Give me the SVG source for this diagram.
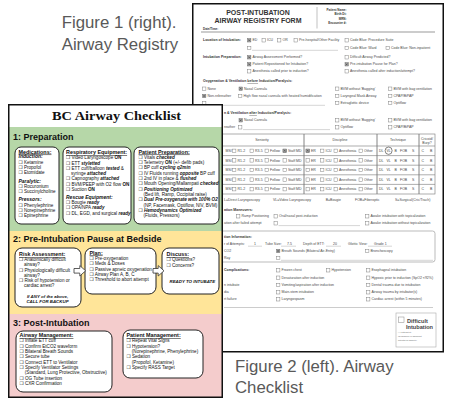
<svg xmlns="http://www.w3.org/2000/svg" width="449" height="404" viewBox="0 0 449 404">
<style>
.cap{font-family:"Liberation Sans",Arial,sans-serif;font-size:16.8px;fill:#595959}
.r{font-family:"Liberation Sans",Arial,sans-serif;font-size:3.5px;fill:#4a4a4a}
.rb{font-weight:bold;fill:#333}
.cbr{fill:#fff;stroke:#777;stroke-width:0.45}
.ul{stroke:#888;stroke-width:0.35}
.tl{stroke:#777;stroke-width:0.6}
.c{font-family:"Liberation Sans","DejaVu Sans",sans-serif;font-size:4.6px;fill:#111}
.ct{font-size:5.4px;font-weight:bold;text-decoration:underline}
.cs{font-size:5px;font-weight:bold;font-style:italic}
.b{font-weight:bold}
.bi{font-weight:bold;font-style:italic}
.sec{font-family:"Liberation Sans",Arial,sans-serif;font-size:9px;font-weight:bold;fill:#111}
.box{fill:#fff;stroke:#222;stroke-width:1}
.arr{fill:#fff;stroke:#333;stroke-width:0.8}
</style>
<defs>
<rect id="cb" width="3.4" height="3.4" class="cbr"/>
<g id="cbx"><rect width="3.4" height="3.4" fill="#aaa" stroke="#666" stroke-width="0.45"/><path d="M0.8,0.8L2.6,2.6M2.6,0.8L0.8,2.6" stroke="#333" stroke-width="0.5"/></g>
<g id="trow" class="r">
<text x="225.5" y="1.1">MSI</text>
<use href="#cb" x="232.5" y="-1.7"/><text x="237.5" y="1.1">R1-2</text>
<use href="#cb" x="250" y="-1.7"/><text x="255" y="1.1">R3-5</text>
<use href="#cb" x="265" y="-1.7"/><text x="270" y="1.1">Fellow</text>
<use href="#cb" x="283" y="-1.7"/><text x="288" y="1.1">Staff MD</text>
<use href="#cb" x="306" y="-1.7"/><text x="311" y="1.1">ER</text>
<use href="#cb" x="320.5" y="-1.7"/><text x="325.5" y="1.1">ICU</text>
<use href="#cb" x="334" y="-1.7"/><text x="339" y="1.1">Anesthesia</text>
<use href="#cb" x="359" y="-1.7"/><text x="364" y="1.1">Other</text>
<text x="379" y="1.1">DL</text><text x="386.5" y="1.1">VL</text><text x="394.5" y="1.1">B</text><text x="400" y="1.1">FOB</text><text x="412" y="1.1">S</text>
<text x="421.5" y="1.1">C</text><text x="430" y="1.1">B</text>
</g>
</defs>

<g id="registry">
<rect x="192.75" y="3.75" width="250.5" height="348" fill="#fff" stroke="#111" stroke-width="1.5"/>
<text x="258" y="15" text-anchor="middle" style="font-family:'Liberation Sans',Arial,sans-serif;font-size:7px;font-weight:bold;fill:#333">POST-INTUBATION</text>
<text x="258" y="23.3" text-anchor="middle" style="font-family:'Liberation Sans',Arial,sans-serif;font-size:7px;font-weight:bold;fill:#333">AIRWAY REGISTRY FORM</text>
<line x1="317" y1="7" x2="317" y2="28.5" stroke="#999" stroke-width="0.6"/>
<g class="r rb" text-anchor="end" style="font-size:3px">
<text x="346.5" y="11">Patient Name:</text>
<text x="346.5" y="15.3">Birth Dt:</text>
<text x="346.5" y="19.6">MRN:</text>
<text x="346.5" y="24">Encounter #:</text>
</g>
<text class="r rb" x="203" y="30.3" style="font-size:3px">Date/Time:</text>
<line x1="201" y1="32" x2="435" y2="32" stroke="#999" stroke-width="1.2"/>

<text class="r rb" x="203" y="41.4">Location of Intubation:</text>
<use href="#cbx" x="247.5" y="38.6"/><text class="r" x="252.5" y="41.4">ED</text>
<use href="#cb" x="262" y="38.6"/><text class="r" x="267" y="41.4">ICU</text>
<use href="#cb" x="277.5" y="38.6"/><text class="r" x="282.5" y="41.4">OR</text>
<use href="#cb" x="294" y="38.6"/><text class="r" x="299" y="41.4">Pre-hospital/Other Facility</text>
<use href="#cb" x="345" y="38.6"/><text class="r" x="350" y="41.4">Code Blue: Procedure Suite</text>
<use href="#cb" x="247.5" y="46.3"/><line class="ul" x1="252" y1="50.3" x2="338" y2="50.3"/>
<use href="#cb" x="345" y="46.3"/><text class="r" x="350" y="49.1">Code Blue: Ward</text>
<use href="#cb" x="386" y="46.3"/><text class="r" x="391" y="49.1">Code Blue: Non-inpatient</text>

<text class="r rb" x="203" y="58.4">Intubation Preparation:</text>
<use href="#cbx" x="247.5" y="55.6"/><text class="r" x="252.5" y="58.4">Airway Assessment Performed?</text>
<use href="#cb" x="345" y="55.6"/><text class="r" x="350" y="58.4">Difficult Airway Predicted?</text>
<use href="#cbx" x="247.5" y="62.6"/><text class="r" x="252.5" y="65.4">Patient Repositioned for Intubation?</text>
<use href="#cbx" x="345" y="62.6"/><text class="r" x="350" y="65.4">Pre-intubation Pause for Plan?</text>
<use href="#cb" x="247.5" y="69.6"/><text class="r" x="252.5" y="72.4">Anesthesia called prior to induction?</text>
<use href="#cb" x="345" y="69.6"/><text class="r" x="350" y="72.4">Anesthesia called after induction/attempt?</text>

<text class="r rb" x="203" y="82.2">Oxygenation &amp; Ventilation <tspan text-decoration="underline">before</tspan> Induction/Paralysis:</text>
<use href="#cb" x="202.5" y="87"/><text class="r" x="207.5" y="89.8">None</text>
<use href="#cbx" x="239" y="87"/><text class="r" x="244" y="89.8">Nasal Cannula</text>
<use href="#cb" x="335.5" y="87"/><text class="r" x="340.5" y="89.8">BVM without 'Bagging'</text>
<use href="#cb" x="388.5" y="87"/><text class="r" x="393.5" y="89.8">BVM with bag ventilation</text>
<use href="#cbx" x="202.5" y="94.3"/><text class="r" x="207.5" y="97.1">Non-rebreather</text>
<use href="#cb" x="238.5" y="94.3"/><text class="r" x="243.5" y="97.1">High flow nasal cannula with heated humidification</text>
<use href="#cb" x="335.5" y="94.3"/><text class="r" x="340.5" y="97.1">Laryngeal Mask Airway</text>
<use href="#cb" x="388.5" y="94.3"/><text class="r" x="393.5" y="97.1">CPAP/BiPAP</text>
<use href="#cb" x="202.5" y="101.3"/><line class="ul" x1="207" y1="105.3" x2="325" y2="105.3"/>
<use href="#cb" x="335.5" y="101.3"/><text class="r" x="340.5" y="104.1">Extraglottic device</text>
<use href="#cb" x="388.5" y="101.3"/><text class="r" x="393.5" y="104.1">Optiflow</text>

<text class="r rb" x="224" y="114">n &amp; Ventilation <tspan text-decoration="underline">after</tspan> Induction/Paralysis:</text>
<use href="#cbx" x="239" y="118.6"/><text class="r" x="244" y="121.4">Nasal Cannula</text>
<use href="#cb" x="335.5" y="118.6"/><text class="r" x="340.5" y="121.4">BVM without 'Bagging'</text>
<use href="#cb" x="388.5" y="118.6"/><text class="r" x="393.5" y="121.4">BVM with bag ventilation</text>
<text class="r" x="224" y="128.4">reather</text>
<use href="#cb" x="238.5" y="125.6"/><line class="ul" x1="243" y1="129.6" x2="330" y2="129.6"/>
<use href="#cb" x="335.5" y="125.6"/><text class="r" x="340.5" y="128.4">Optiflow</text>
<use href="#cb" x="388.5" y="125.6"/><text class="r" x="393.5" y="128.4">CPAP/BiPAP</text>

<g class="tl" fill="none">
<rect x="203" y="134" width="232" height="60"/>
<line x1="203" y1="146" x2="435" y2="146"/>
<line x1="203" y1="155.6" x2="435" y2="155.6"/>
<line x1="203" y1="165.2" x2="435" y2="165.2"/>
<line x1="203" y1="174.8" x2="435" y2="174.8"/>
<line x1="203" y1="184.4" x2="435" y2="184.4"/>
<line x1="304" y1="134" x2="304" y2="194" stroke-width="0.9"/>
<line x1="377" y1="134" x2="377" y2="194" stroke-width="0.9"/>
<line x1="419" y1="134" x2="419" y2="194" stroke-width="0.9"/>
</g>
<g class="r" text-anchor="middle">
<text x="262" y="141.3">Seniority</text>
<text x="340" y="141.3">Discipline</text>
<text x="398" y="141.3">Technique</text>
<text x="427" y="139.6">Cricoid/</text>
<text x="427" y="143.6">Burp?</text>
</g>
<use href="#trow" y="150.8"/>
<use href="#cbx" x="283" y="149.1"/>
<use href="#cbx" x="306" y="149.1"/>
<ellipse cx="388.6" cy="150.7" rx="3.5" ry="3.7" fill="none" stroke="#333" stroke-width="0.6"/>
<use href="#trow" y="160.4"/>
<use href="#trow" y="170"/>
<use href="#trow" y="179.6"/>
<use href="#trow" y="189.2"/>
<g class="r">
<text x="224" y="200.5">L=Direct Laryngoscopy</text>
<text x="273" y="200.5">VL=Video Laryngoscopy</text>
<text x="325.7" y="200.5">B=Bougie</text>
<text x="355" y="200.5">FOB=Fiberoptic</text>
<text x="395" y="200.5">S=Surgical(Cric/Trach)</text>
</g>

<text class="r rb" x="224" y="210.8">ation Maneuvers:</text>
<use href="#cb" x="236.5" y="214.6"/><text class="r" x="241.5" y="217.4">Ramp Positioning</text>
<use href="#cb" x="274" y="214.6"/><text class="r" x="279" y="217.4">Oral/nasal post-induction</text>
<use href="#cb" x="365.5" y="214.6"/><text class="r" x="370.5" y="217.4">Awake intubation with topicalization</text>
<text class="r" x="224" y="224.4">ation after failed attempt</text>
<use href="#cb" x="274" y="221.6"/><line class="ul" x1="278.5" y1="225.6" x2="360" y2="225.6"/>
<use href="#cb" x="365.5" y="221.6"/><text class="r" x="370.5" y="224.4">Awake intubation without topicalization</text>

<rect x="203" y="231" width="232" height="31" rx="2.5" fill="none" stroke="#aaa" stroke-width="0.8"/>
<text class="r rb" x="224" y="238.3">tion Information:</text>
<g class="r">
<text x="224" y="245.4">r of Attempts:</text>
<line class="ul" x1="248" y1="246.2" x2="262" y2="246.2"/><text x="254" y="245.4">1</text>
<text x="265" y="245.4">Tube Size:</text>
<line class="ul" x1="281" y1="246.2" x2="296" y2="246.2"/><text x="287" y="245.4">7.5</text>
<text x="303" y="245.4">Depth of ETT:</text>
<line class="ul" x1="326" y1="246.2" x2="341" y2="246.2"/><text x="333" y="245.4">20</text>
<text x="348" y="245.4">Glottic View:</text>
<line class="ul" x1="368" y1="246.2" x2="392" y2="246.2"/><text x="374" y="245.4">Grade 1</text>
<text x="224" y="252.2">CO2</text>
<use href="#cbx" x="276.5" y="249.3"/><text x="281.5" y="252.2">Breath Sounds (Bilateral Air-Entry)</text>
<use href="#cb" x="365.5" y="249.3"/><text x="370.5" y="252.2">Bronchoscopy</text>
<text x="224" y="259.2">Ray</text>
</g>
<use href="#cb" x="276.5" y="256.3"/><line class="ul" x1="281" y1="260.3" x2="433" y2="260.3"/>

<text class="r rb" x="224" y="271.4">Complications:</text>
<g class="r">
<use href="#cb" x="276.5" y="268.6"/><text x="281.5" y="271.4">Frozen chest</text>
<use href="#cb" x="326.5" y="268.6"/><text x="331.5" y="271.4">Hypotension</text>
<use href="#cb" x="366.5" y="268.6"/><text x="371.5" y="271.4">Esophageal intubation</text>
<use href="#cb" x="276.5" y="276"/><text x="281.5" y="278.8">Desaturation after induction</text>
<use href="#cb" x="366.5" y="276"/><text x="371.5" y="278.8">Hypoxic prior to induction (SpO2 &lt;92%)</text>
<text x="224" y="286.1">n intubate</text>
<use href="#cb" x="276.5" y="283.3"/><text x="281.5" y="286.1">Vomiting/aspiration after induction</text>
<use href="#cb" x="366.5" y="283.3"/><text x="371.5" y="286.1">Dental trauma due to intubation</text>
<text x="224" y="293.4">dia</text>
<use href="#cb" x="276.5" y="290.6"/><text x="281.5" y="293.4">Main-stem intubation</text>
<use href="#cb" x="366.5" y="290.6"/><text x="371.5" y="293.4">Airway trauma by intubator(s)</text>
<text x="224" y="300.4">rt failure</text>
<use href="#cb" x="276.5" y="297.6"/><text x="281.5" y="300.4">Laryngospasm</text>
<use href="#cb" x="366.5" y="297.6"/><text x="371.5" y="300.4">Cardiac arrest (within 5 minutes)</text>
</g>
<line x1="224" y1="307.5" x2="433" y2="307.5" stroke="#ccc" stroke-width="1.2"/>

<rect x="396" y="313" width="40" height="34" fill="#fff" stroke="#aaa" stroke-width="0.6"/>
<rect x="398.5" y="317" width="5.5" height="5.5" fill="#fff" stroke="#888" stroke-width="0.5"/>
<g style="font-family:'Liberation Sans',Arial,sans-serif;font-weight:bold;font-size:5.6px;fill:#444">
<text x="407" y="322.8">Difficult</text>
<text x="406" y="329.3">Intubation</text>
</g>
<g style="font-family:'Liberation Sans',Arial,sans-serif;font-size:2px;fill:#666">
<text x="398" y="333">(&gt; 1 attempt at</text>
<text x="398" y="337">laryngoscopy or significant</text>
<text x="398" y="341">potential for difficulty)</text>
</g>
</g>

<g id="checklist">
<rect x="8.5" y="104.5" width="214" height="293" fill="#fff"/>
<rect x="8.5" y="127" width="214" height="104" fill="#b6d7a8"/>
<rect x="8.5" y="231" width="214" height="83" fill="#ffe599"/>
<rect x="8.5" y="314" width="214" height="83.5" fill="#f4cccc"/>
<text x="116.5" y="120" text-anchor="middle" textLength="129" lengthAdjust="spacingAndGlyphs" style="font-family:'Liberation Serif','Times New Roman',serif;font-weight:bold;font-size:13.5px;fill:#111">BC Airway Checklist</text>
<text class="sec" x="13" y="139.5">1: Preparation</text>
<text class="sec" x="13" y="242">2: Pre-Intubation Pause at Bedside</text>
<text class="sec" x="13" y="326">3: Post-Intubation</text>

<g id="medications">
<rect class="box" x="15" y="147" width="44" height="77" rx="6"/>
<g class="c">
<text class="ct" x="18.5" y="153.5">Medications:</text>
<text class="cs" x="18.5" y="158">Induction:</text>
<text x="18.5" y="163.5">❒ Ketamine</text>
<text x="18.5" y="168.7">❒ Propofol</text>
<text x="18.5" y="174">❒ Etomidate</text>
<text class="cs" x="18.5" y="182.5">Paralytic:</text>
<text x="18.5" y="188">❒ Rocuronium</text>
<text x="18.5" y="193.2">❒ Succinylcholine</text>
<text class="cs" x="18.5" y="201">Pressors:</text>
<text x="18.5" y="206.5">❒ Phenylephrine</text>
<text x="18.5" y="211.8">❒ Norepinephrine</text>
<text x="18.5" y="217.2">❒ Epinephrine</text>
</g>
</g>

<g id="respiratory-equipment">
<rect class="box" x="63" y="147" width="68" height="77" rx="6"/>
<g class="c">
<text class="ct" x="66" y="154">Respiratory Equipment:</text>
<text x="66" y="159.2">❒ Video Laryngoscope <tspan class="b">ON</tspan></text>
<text x="66" y="164.5">❒ ETT <tspan class="bi">styletted</tspan></text>
<text x="66" y="169.8">❒ ETT cuff/balloon <tspan class="bi">tested</tspan> &amp;</text>
<text x="71" y="175">syringe <tspan class="bi">attached</tspan></text>
<text x="66" y="180.3">❒ Capnography <tspan class="bi">attached</tspan></text>
<text x="66" y="185.7">❒ BVM/PEEP with O2 flow <tspan class="b">ON</tspan></text>
<text x="66" y="191.2">❒ Suction <tspan class="b">ON</tspan></text>
<text class="cs" x="66" y="198.5">Rescue Equipment:</text>
<text x="66" y="204">❒ Bougie <tspan class="bi">ready</tspan></text>
<text x="66" y="209.2">❒ OPA/NPA <tspan class="bi">ready</tspan></text>
<text x="66" y="214.5">❒ DL, EGD, and surgical <tspan class="bi">ready</tspan></text>
</g>
</g>

<g id="patient-preparation">
<rect class="box" x="134" y="147" width="85" height="77" rx="6"/>
<g class="c">
<text class="ct" x="138.5" y="153.5">Patient Preparation:</text>
<text x="138.5" y="158.6">❒ Vitals <tspan class="bi">checked</tspan></text>
<text x="138.5" y="164">❒ Telemetry <tspan class="b">ON</tspan> (+/- defib pads)</text>
<text x="138.5" y="169.2">❒ BP cuff <tspan class="bi">cycling q2min</tspan></text>
<text x="138.5" y="174.5">❒ IV Fluids running <tspan class="bi">opposite</tspan> BP cuff</text>
<text x="138.5" y="179.8">❒ 2nd IV in place &amp; <tspan class="bi">flushed</tspan></text>
<text x="138.5" y="185.1">❒ Mouth Opening/Mallampati <tspan class="bi">checked</tspan></text>
<text x="138.5" y="190.5">❒ <tspan class="bi">Positioning Optimized</tspan></text>
<text x="143.5" y="195.8">(Bed lift, Ramp, Occipital raise)</text>
<text x="138.5" y="201.3">❒ <tspan class="bi">Dual Pre-oxygenate with 100% O2</tspan></text>
<text x="143.5" y="206.6">(NP, Facemask, Optiflow, NIV, BVM)</text>
<text x="138.5" y="212.1">❒ <tspan class="bi">Hemodynamics Optimized</tspan></text>
<text x="143.5" y="217.4">(Fluids, Pressors)</text>
</g>
</g>

<g id="risk-assessment">
<rect class="box" x="15" y="248" width="66" height="59" rx="7"/>
<g class="c">
<text class="ct" x="19" y="256">Risk Assessment:</text>
<text x="19" y="261.2">❒ Anatomically difficult</text>
<text x="24" y="266.3">airway?</text>
<text x="19" y="271.6">❒ Physiologically difficult</text>
<text x="24" y="276.7">airway?</text>
<text x="19" y="282">❒ Risk of hypotension or</text>
<text x="24" y="287.1">cardiac arrest?</text>
<text class="bi" x="47.5" y="298" text-anchor="middle" style="font-size:4.4px">If ANY of the above,</text>
<text class="bi" x="47.5" y="303.4" text-anchor="middle" style="font-size:4.4px">CALL FOR BACKUP</text>
</g>
</g>

<g id="plan">
<rect class="box" x="85" y="248" width="71" height="46" rx="7"/>
<g class="c">
<text class="ct" x="89.5" y="254.5">Plan:</text>
<text x="89.5" y="260">❒ Pre-oxygenation</text>
<text x="89.5" y="265.4">❒ Meds &amp; Doses</text>
<text x="89.5" y="270.7">❒ Passive apneic oxygenation</text>
<text x="89.5" y="276">❒ Airway Plan A, B, C</text>
<text x="89.5" y="281.4">❒ Threshold to abort attempt</text>
</g>
</g>

<g id="discuss">
<rect class="box" x="162" y="248" width="57" height="46" rx="7"/>
<g class="c">
<text class="ct" x="166.5" y="256">Discuss:</text>
<text x="166.5" y="261.4">❒ Questions?</text>
<text x="166.5" y="266.6">❒ Concerns?</text>
<text class="bi" x="192.3" y="283.2" text-anchor="middle" style="font-size:4.4px">READY TO INTUBATE</text>
</g>
</g>

<g id="airway-management">
<rect class="box" x="16" y="331" width="96" height="61" rx="7"/>
<g class="c">
<text class="ct" x="19.5" y="337">Airway Management:</text>
<text x="19.5" y="342.4">❒ Inflate ETT cuff</text>
<text x="19.5" y="347.6">❒ Confirm EtCO2 waveform</text>
<text x="19.5" y="353">❒ Bilateral Breath Sounds</text>
<text x="19.5" y="358.3">❒ Secure tube</text>
<text x="19.5" y="363.6">❒ Connect ETT to Ventilator</text>
<text x="19.5" y="369">❒ Specify Ventilator Settings</text>
<text x="24.8" y="374.3">(Standard, Lung Protective, Obstructive)</text>
<text x="19.5" y="379.6">❒ OG Tube insertion</text>
<text x="19.5" y="385">❒ CXR Confirmation</text>
</g>
</g>

<g id="patient-management">
<rect class="box" x="123" y="330" width="80" height="48" rx="7"/>
<g class="c">
<text class="ct" x="126.5" y="337">Patient Management:</text>
<text x="126.5" y="342.4">❒ Repeat Vital Signs</text>
<text x="126.5" y="347.7">❒ Hypotension?</text>
<text x="131.8" y="353">(Norepinephrine, Phenylephrine)</text>
<text x="126.5" y="358.4">❒ Sedation</text>
<text x="131.8" y="363.6">(Propofol, Ketamine)</text>
<text x="126.5" y="369">❒ Specify RASS Target</text>
</g>
</g>

<g id="connectors">
<path class="arr" d="M74,268.5H79.8V265.6L85.6,270.8L79.8,276V273.1H74Z"/>
<path class="arr" d="M153,268.5H158.2V265.6L164,270.8L158.2,276V273.1H153Z"/>
</g>

<rect x="8.75" y="104.75" width="213.5" height="292.5" fill="none" stroke="#111" stroke-width="1.5"/>
</g>

<g id="captions">
<text class="cap" x="61.7" y="28.3">Figure 1 (right).</text>
<text class="cap" x="61.7" y="50">Airway Registry</text>
<text class="cap" x="235" y="372">Figure 2 (left). Airway</text>
<text class="cap" x="235" y="393">Checklist</text>
</g>
</svg>
